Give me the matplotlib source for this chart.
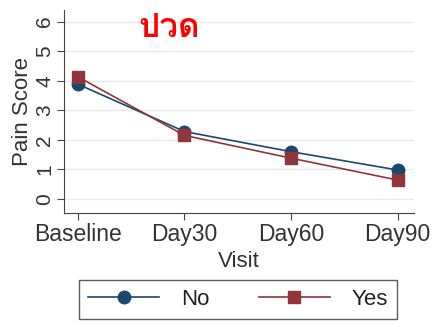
import matplotlib
matplotlib.use("Agg")
import matplotlib.pyplot as plt
from matplotlib import font_manager
from matplotlib.ft2font import FT2Font

visits = ["Baseline", "Day30", "Day60", "Day90"]
score_no = [3.88, 2.28, 1.60, 0.98]
score_yes = [4.13, 2.15, 1.38, 0.64]
y_ticks = [0, 1, 2, 3, 4, 5, 6]
title = "ปวด"


def thai_font():
    # look for any installed font that has Thai glyphs
    seen = set()
    for f in font_manager.fontManager.ttflist:
        if f.fname in seen:
            continue
        seen.add(f.fname)
        try:
            if 0x0E1B in FT2Font(f.fname).get_charmap():
                return f.name
        except Exception:
            pass
    return "DejaVu Sans"


plt.rcParams["font.family"] = ["Liberation Sans", "DejaVu Sans"]

navy = "#1a476f"
maroon = "#90353b"

fig = plt.figure(figsize=(4.33, 3.24), dpi=100)
ax = fig.add_axes([0.148, 0.343, 0.807, 0.627])

x = range(len(visits))
ax.plot(x, score_no, color=navy, marker="o", markersize=9, lw=1.2, label="No")
ax.plot(x, score_yes, color=maroon, marker="s", markersize=9, lw=1.2, label="Yes")

ax.set_xlim(-0.13, 3.15)
ax.set_ylim(-0.47, 6.4)
ax.set_xticks(list(x))
ax.set_xticklabels(visits, fontsize=16.5, color="#333333")
ax.set_yticks(y_ticks)
ax.set_yticklabels([str(v) for v in y_ticks], fontsize=15, rotation=90,
                   va="center", color="#333333")
ax.grid(axis="y", color="#eaeaea", lw=1)
ax.set_axisbelow(True)
for s in ["top", "right"]:
    ax.spines[s].set_visible(False)
for s in ["left", "bottom"]:
    ax.spines[s].set_color("#444444")
ax.tick_params(length=5, color="#444444", pad=2)

ax.set_xlabel("Visit", fontsize=16, labelpad=4, color="#333333")
ax.set_ylabel("Pain Score", fontsize=16, labelpad=2, color="#333333")

fig.text(0.39, 0.915, title, fontsize=24, fontweight="bold", color="red",
         ha="center", va="center", family=[thai_font(), "DejaVu Sans"])

fig.legend(loc="center", bbox_to_anchor=(0.55, 0.075), ncol=2, fontsize=16,
           frameon=True, fancybox=False, edgecolor="#333333", handlelength=3.2,
           columnspacing=2.2, borderpad=0.4, handletextpad=1.0,
           labelcolor="#222222")

fig.savefig("out.png", dpi=100)
